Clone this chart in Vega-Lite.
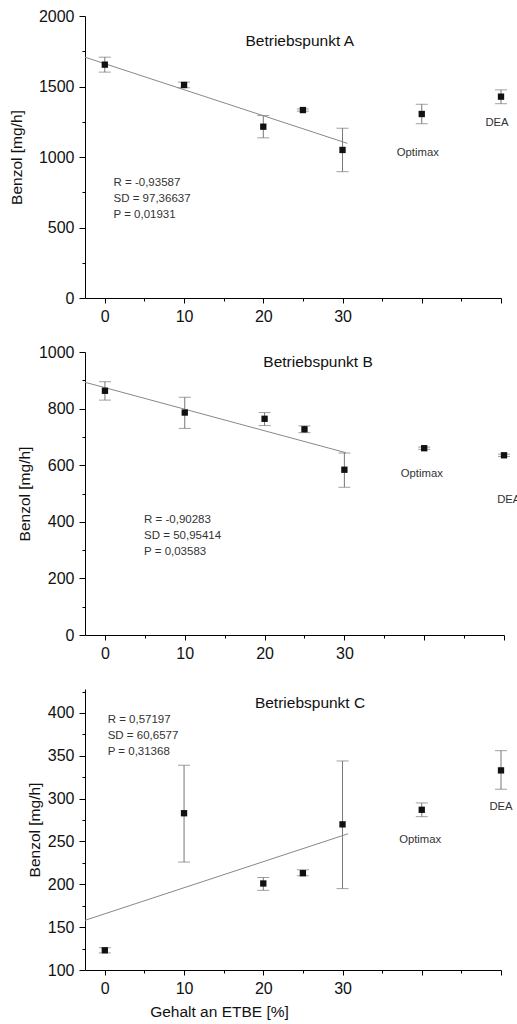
{
  "$schema": "https://vega.github.io/schema/vega-lite/v6.json",
  "padding": {"top": 8, "left": 9, "right": 0, "bottom": 0},
  "background": "#ffffff",
  "spacing": 54,
  "bounds": "flush",
  "config": {
    "view": {"stroke": null},
    "font": "Liberation Sans",
    "axis": {
      "grid": false,
      "domainColor": "#000000",
      "tickColor": "#000000",
      "labelColor": "#111111",
      "labelFontSize": 16,
      "titleFontSize": 15.5,
      "titleFontWeight": "normal",
      "titleColor": "#111111",
      "labelFont": "Liberation Sans",
      "titleFont": "Liberation Sans",
      "labelPadding": 5
    }
  },
  "datasets": {
    "pts": [
      {"panel": "A", "x": 0, "y": 1655, "lo": 1602, "hi": 1708},
      {"panel": "A", "x": 10, "y": 1511, "lo": 1491, "hi": 1531},
      {"panel": "A", "x": 20, "y": 1215, "lo": 1136, "hi": 1294},
      {"panel": "A", "x": 25, "y": 1333, "lo": 1325, "hi": 1341},
      {"panel": "A", "x": 30, "y": 1050, "lo": 896, "hi": 1204},
      {"panel": "A", "x": 40, "y": 1305, "lo": 1236, "hi": 1374},
      {"panel": "A", "x": 50, "y": 1428, "lo": 1378, "hi": 1476},
      {"panel": "B", "x": 0, "y": 863, "lo": 830, "hi": 895},
      {"panel": "B", "x": 10, "y": 786, "lo": 730, "hi": 840},
      {"panel": "B", "x": 20, "y": 764, "lo": 740, "hi": 786},
      {"panel": "B", "x": 25, "y": 727, "lo": 715, "hi": 739},
      {"panel": "B", "x": 30, "y": 584, "lo": 522, "hi": 643},
      {"panel": "B", "x": 40, "y": 660, "lo": 656, "hi": 664},
      {"panel": "B", "x": 50, "y": 635, "lo": 631, "hi": 639},
      {"panel": "C", "x": 0, "y": 123, "lo": 120, "hi": 126},
      {"panel": "C", "x": 10, "y": 283, "lo": 226, "hi": 339},
      {"panel": "C", "x": 20, "y": 201, "lo": 193, "hi": 208},
      {"panel": "C", "x": 25, "y": 213, "lo": 210, "hi": 217},
      {"panel": "C", "x": 30, "y": 270, "lo": 195, "hi": 344},
      {"panel": "C", "x": 40, "y": 287, "lo": 279, "hi": 295},
      {"panel": "C", "x": 50, "y": 333, "lo": 311, "hi": 356}
    ],
    "fit": [
      {"panel": "A", "x": -2.5, "y": 1708},
      {"panel": "A", "x": 30.6, "y": 1097},
      {"panel": "B", "x": -2.5, "y": 893},
      {"panel": "B", "x": 30.2, "y": 644},
      {"panel": "C", "x": -2.5, "y": 158},
      {"panel": "C", "x": 30.7, "y": 259}
    ],
    "texts": [
      {"panel": "A", "kind": "title", "x": 24.6, "y": 1822, "text": "Betriebspunkt A"},
      {"panel": "A", "kind": "stat", "x": 1.1, "y": 815, "text": "R  = -0,93587"},
      {"panel": "A", "kind": "stat", "x": 1.1, "y": 702, "text": "SD = 97,36637"},
      {"panel": "A", "kind": "stat", "x": 1.1, "y": 589, "text": "P = 0,01931"},
      {"panel": "A", "kind": "lab", "x": 39.5, "y": 1028, "text": "Optimax"},
      {"panel": "A", "kind": "lab", "x": 49.5, "y": 1241, "text": "DEA"},
      {"panel": "B", "kind": "title", "x": 26.7, "y": 963, "text": "Betriebspunkt B"},
      {"panel": "B", "kind": "stat", "x": 4.9, "y": 405, "text": "R  = -0,90283"},
      {"panel": "B", "kind": "stat", "x": 4.9, "y": 349, "text": "SD = 50,95414"},
      {"panel": "B", "kind": "stat", "x": 4.9, "y": 294, "text": "P = 0,03583"},
      {"panel": "B", "kind": "lab", "x": 39.7, "y": 570, "text": "Optimax"},
      {"panel": "B", "kind": "lab", "x": 50.6, "y": 476, "text": "DEA"},
      {"panel": "C", "kind": "title", "x": 25.9, "y": 412, "text": "Betriebspunkt C"},
      {"panel": "C", "kind": "stat", "x": 0.36, "y": 392, "text": "R  = 0,57197"},
      {"panel": "C", "kind": "stat", "x": 0.36, "y": 373, "text": "SD = 60,6577"},
      {"panel": "C", "kind": "stat", "x": 0.36, "y": 354, "text": "P = 0,31368"},
      {"panel": "C", "kind": "lab", "x": 39.8, "y": 252, "text": "Optimax"},
      {"panel": "C", "kind": "lab", "x": 50.0, "y": 290, "text": "DEA"}
    ]
  },
  "vconcat": [
    {
      "width": 416,
      "height": 282,
      "encoding": {
        "x": {"field": "x", "type": "quantitative", "scale": {"domain": [-2.5, 50], "nice": false, "zero": false},
          "axis": {"title": null, "values": [0, 5, 10, 15, 20, 25, 30, 35, 40, 45, 50],
            "labelExpr": "datum.value <= 30 && datum.value % 10 === 0 ? datum.label : ''",
            "tickSize": {"condition": {"test": "datum.value % 10 === 0", "value": 5}, "value": 3}}},
        "y": {"field": "y", "type": "quantitative", "scale": {"domain": [0, 2000], "nice": false},
          "axis": {"title": "Benzol  [mg/h]", "titlePadding": 14, "values": [0, 250, 500, 750, 1000, 1250, 1500, 1750, 2000],
            "labelExpr": "datum.value % 500 === 0 ? datum.label : ''", "format": "d",
            "tickSize": {"condition": {"test": "datum.value % 500 === 0", "value": 6}, "value": 3}}}
      },
      "layer": [
        {"data": {"name": "pts"}, "transform": [{"filter": "datum.panel === 'A'"}],
          "mark": {"type": "errorbar", "orient": "vertical", "color": "#777777", "ticks": {"size": 12, "color": "#777777"}, "rule": {"color": "#777777"}},
          "encoding": {"y": {"field": "lo", "type": "quantitative", "scale": {"domain": [0, 2000], "nice": false}, "title": "Benzol  [mg/h]"}, "y2": {"field": "hi"}}},
        {"data": {"name": "fit"}, "transform": [{"filter": "datum.panel === 'A'"}],
          "mark": {"type": "line", "color": "#888888", "strokeWidth": 1}},
        {"data": {"name": "pts"}, "transform": [{"filter": "datum.panel === 'A'"}],
          "mark": {"type": "square", "size": 40, "color": "#111111", "opacity": 1}},
        {"data": {"name": "texts"}, "transform": [{"filter": "datum.panel === 'A' && datum.kind === 'title'"}],
          "mark": {"type": "text", "fontSize": 15.5, "color": "#111111", "align": "center", "baseline": "middle"},
          "encoding": {"text": {"field": "text"}}},
        {"data": {"name": "texts"}, "transform": [{"filter": "datum.panel === 'A' && datum.kind === 'stat'"}],
          "mark": {"type": "text", "fontSize": 11.5, "color": "#333333", "align": "left", "baseline": "middle"},
          "encoding": {"text": {"field": "text"}}},
        {"data": {"name": "texts"}, "transform": [{"filter": "datum.panel === 'A' && datum.kind === 'lab'"}],
          "mark": {"type": "text", "fontSize": 11.3, "color": "#333333", "align": "center", "baseline": "middle"},
          "encoding": {"text": {"field": "text"}}}
      ]
    },
    {
      "width": 419,
      "height": 283,
      "encoding": {
        "x": {"field": "x", "type": "quantitative", "scale": {"domain": [-2.5, 50], "nice": false, "zero": false},
          "axis": {"title": null, "values": [0, 5, 10, 15, 20, 25, 30, 35, 40, 45, 50],
            "labelExpr": "datum.value <= 30 && datum.value % 10 === 0 ? datum.label : ''",
            "tickSize": {"condition": {"test": "datum.value % 10 === 0", "value": 5}, "value": 3}}},
        "y": {"field": "y", "type": "quantitative", "scale": {"domain": [0, 1000], "nice": false},
          "axis": {"title": "Benzol [mg/h]", "titlePadding": 6, "values": [0, 100, 200, 300, 400, 500, 600, 700, 800, 900, 1000],
            "labelExpr": "datum.value % 200 === 0 ? datum.label : ''", "format": "d",
            "tickSize": {"condition": {"test": "datum.value % 200 === 0", "value": 6}, "value": 3}}}
      },
      "layer": [
        {"data": {"name": "pts"}, "transform": [{"filter": "datum.panel === 'B'"}],
          "mark": {"type": "errorbar", "orient": "vertical", "color": "#777777", "ticks": {"size": 12, "color": "#777777"}, "rule": {"color": "#777777"}},
          "encoding": {"y": {"field": "lo", "type": "quantitative", "scale": {"domain": [0, 1000], "nice": false}, "title": "Benzol [mg/h]"}, "y2": {"field": "hi"}}},
        {"data": {"name": "fit"}, "transform": [{"filter": "datum.panel === 'B'"}],
          "mark": {"type": "line", "color": "#888888", "strokeWidth": 1}},
        {"data": {"name": "pts"}, "transform": [{"filter": "datum.panel === 'B'"}],
          "mark": {"type": "square", "size": 40, "color": "#111111", "opacity": 1}},
        {"data": {"name": "texts"}, "transform": [{"filter": "datum.panel === 'B' && datum.kind === 'title'"}],
          "mark": {"type": "text", "fontSize": 15.5, "color": "#111111", "align": "center", "baseline": "middle"},
          "encoding": {"text": {"field": "text"}}},
        {"data": {"name": "texts"}, "transform": [{"filter": "datum.panel === 'B' && datum.kind === 'stat'"}],
          "mark": {"type": "text", "fontSize": 11.5, "color": "#333333", "align": "left", "baseline": "middle"},
          "encoding": {"text": {"field": "text"}}},
        {"data": {"name": "texts"}, "transform": [{"filter": "datum.panel === 'B' && datum.kind === 'lab'"}],
          "mark": {"type": "text", "fontSize": 11.3, "color": "#333333", "align": "center", "baseline": "middle"},
          "encoding": {"text": {"field": "text"}}}
      ]
    },
    {
      "width": 416,
      "height": 281,
      "encoding": {
        "x": {"field": "x", "type": "quantitative", "scale": {"domain": [-2.5, 50], "nice": false, "zero": false},
          "axis": {"title": "Gehalt an ETBE [%]", "titleX": 134, "titleAnchor": null, "titleAlign": "center", "titlePadding": 8, "values": [0, 5, 10, 15, 20, 25, 30, 35, 40, 45, 50],
            "labelExpr": "datum.value <= 30 && datum.value % 10 === 0 ? datum.label : ''",
            "tickSize": {"condition": {"test": "datum.value % 10 === 0", "value": 5}, "value": 3}}},
        "y": {"field": "y", "type": "quantitative", "scale": {"domain": [100, 428], "nice": false, "zero": false},
          "axis": {"title": "Benzol  [mg/h]", "titlePadding": 5, "values": [100, 125, 150, 175, 200, 225, 250, 275, 300, 325, 350, 375, 400, 425],
            "labelExpr": "datum.value % 50 === 0 ? datum.label : ''", "format": "d",
            "tickSize": {"condition": {"test": "datum.value % 50 === 0", "value": 6}, "value": 3}}}
      },
      "layer": [
        {"data": {"name": "pts"}, "transform": [{"filter": "datum.panel === 'C'"}],
          "mark": {"type": "errorbar", "orient": "vertical", "color": "#777777", "ticks": {"size": 12, "color": "#777777"}, "rule": {"color": "#777777"}},
          "encoding": {"y": {"field": "lo", "type": "quantitative", "scale": {"domain": [100, 428], "nice": false, "zero": false}, "title": "Benzol  [mg/h]"}, "y2": {"field": "hi"}}},
        {"data": {"name": "fit"}, "transform": [{"filter": "datum.panel === 'C'"}],
          "mark": {"type": "line", "color": "#888888", "strokeWidth": 1}},
        {"data": {"name": "pts"}, "transform": [{"filter": "datum.panel === 'C'"}],
          "mark": {"type": "square", "size": 40, "color": "#111111", "opacity": 1}},
        {"data": {"name": "texts"}, "transform": [{"filter": "datum.panel === 'C' && datum.kind === 'title'"}],
          "mark": {"type": "text", "fontSize": 15.5, "color": "#111111", "align": "center", "baseline": "middle"},
          "encoding": {"text": {"field": "text"}}},
        {"data": {"name": "texts"}, "transform": [{"filter": "datum.panel === 'C' && datum.kind === 'stat'"}],
          "mark": {"type": "text", "fontSize": 11.5, "color": "#333333", "align": "left", "baseline": "middle"},
          "encoding": {"text": {"field": "text"}}},
        {"data": {"name": "texts"}, "transform": [{"filter": "datum.panel === 'C' && datum.kind === 'lab'"}],
          "mark": {"type": "text", "fontSize": 11.3, "color": "#333333", "align": "center", "baseline": "middle"},
          "encoding": {"text": {"field": "text"}}}
      ]
    }
  ]
}
